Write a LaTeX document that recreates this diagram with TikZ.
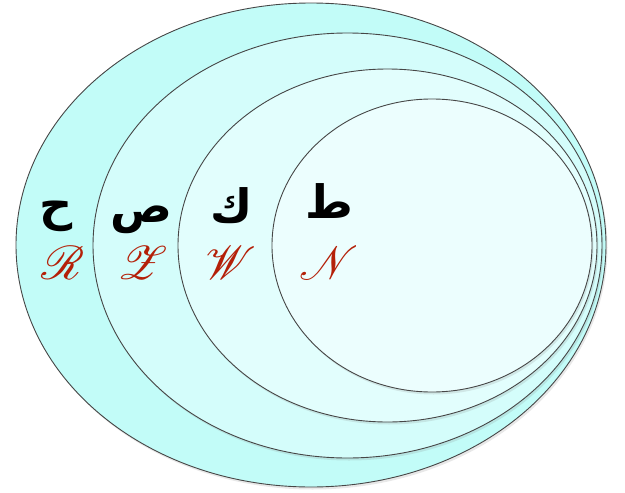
\documentclass[tikz,border=0pt]{standalone}
\usepackage{fontspec}
\usepackage{graphicx}
\usepackage{mathrsfs}
\usetikzlibrary{shadows}
\TeXXeTstate=1
\newfontfamily\arabicfont[Script=Arabic]{DejaVu Sans}
\definecolor{ringA}{RGB}{194,252,248}
\definecolor{ringB}{RGB}{212,253,251}
\definecolor{ringC}{RGB}{226,254,253}
\definecolor{ringD}{RGB}{236,254,254}
\definecolor{edge}{RGB}{70,70,70}
\definecolor{scred}{RGB}{180,32,8}
\newcommand{\scrlet}[1]{\scalebox{1.9}{$\mathscr{#1}$}}
\begin{document}
\begin{tikzpicture}[x=1pt,y=-1pt,
  ring/.style={draw=edge, line width=0.9pt,
    drop shadow={opacity=0.18, shadow xshift=1.5pt, shadow yshift=-2.5pt}},
  ar/.style={font=\arabicfont\bfseries\fontsize{46}{52}\selectfont, text=black, anchor=base, inner sep=0pt},
  sc/.style={text=scred, anchor=base, inner sep=0pt, font=\fontsize{24.88}{30}\selectfont}]
\useasboundingbox (0,0) rectangle (625,493);
\path[ring, fill=ringA] (311,245) ellipse [x radius=295, y radius=242];
\path[ring, fill=ringB] (347.5,245.5) ellipse [x radius=254.5, y radius=212.5];
\path[ring, fill=ringC] (387.5,245.5) ellipse [x radius=209.5, y radius=176.5];
\path[ring, fill=ringD] (432,245.5) ellipse [x radius=160, y radius=146.5];
\node[ar] (h) at (56,220) {\beginR ح\endR};
\node[ar] (s) at (141,222) {\beginR ص\endR};
\node[ar] (k) at (232,222) {\beginR ك\endR};
\node[ar] (t) at (329,218) {\beginR ط\endR};
\node[sc] (R) at (63,279) {\scrlet{R}};
\node[sc] (Z) at (143,279) {\scrlet{Z}};
\node[sc] (W) at (231,279) {\scrlet{W}};
\node[sc] (N) at (329,279) {\scrlet{N}};
\end{tikzpicture}
\end{document}
